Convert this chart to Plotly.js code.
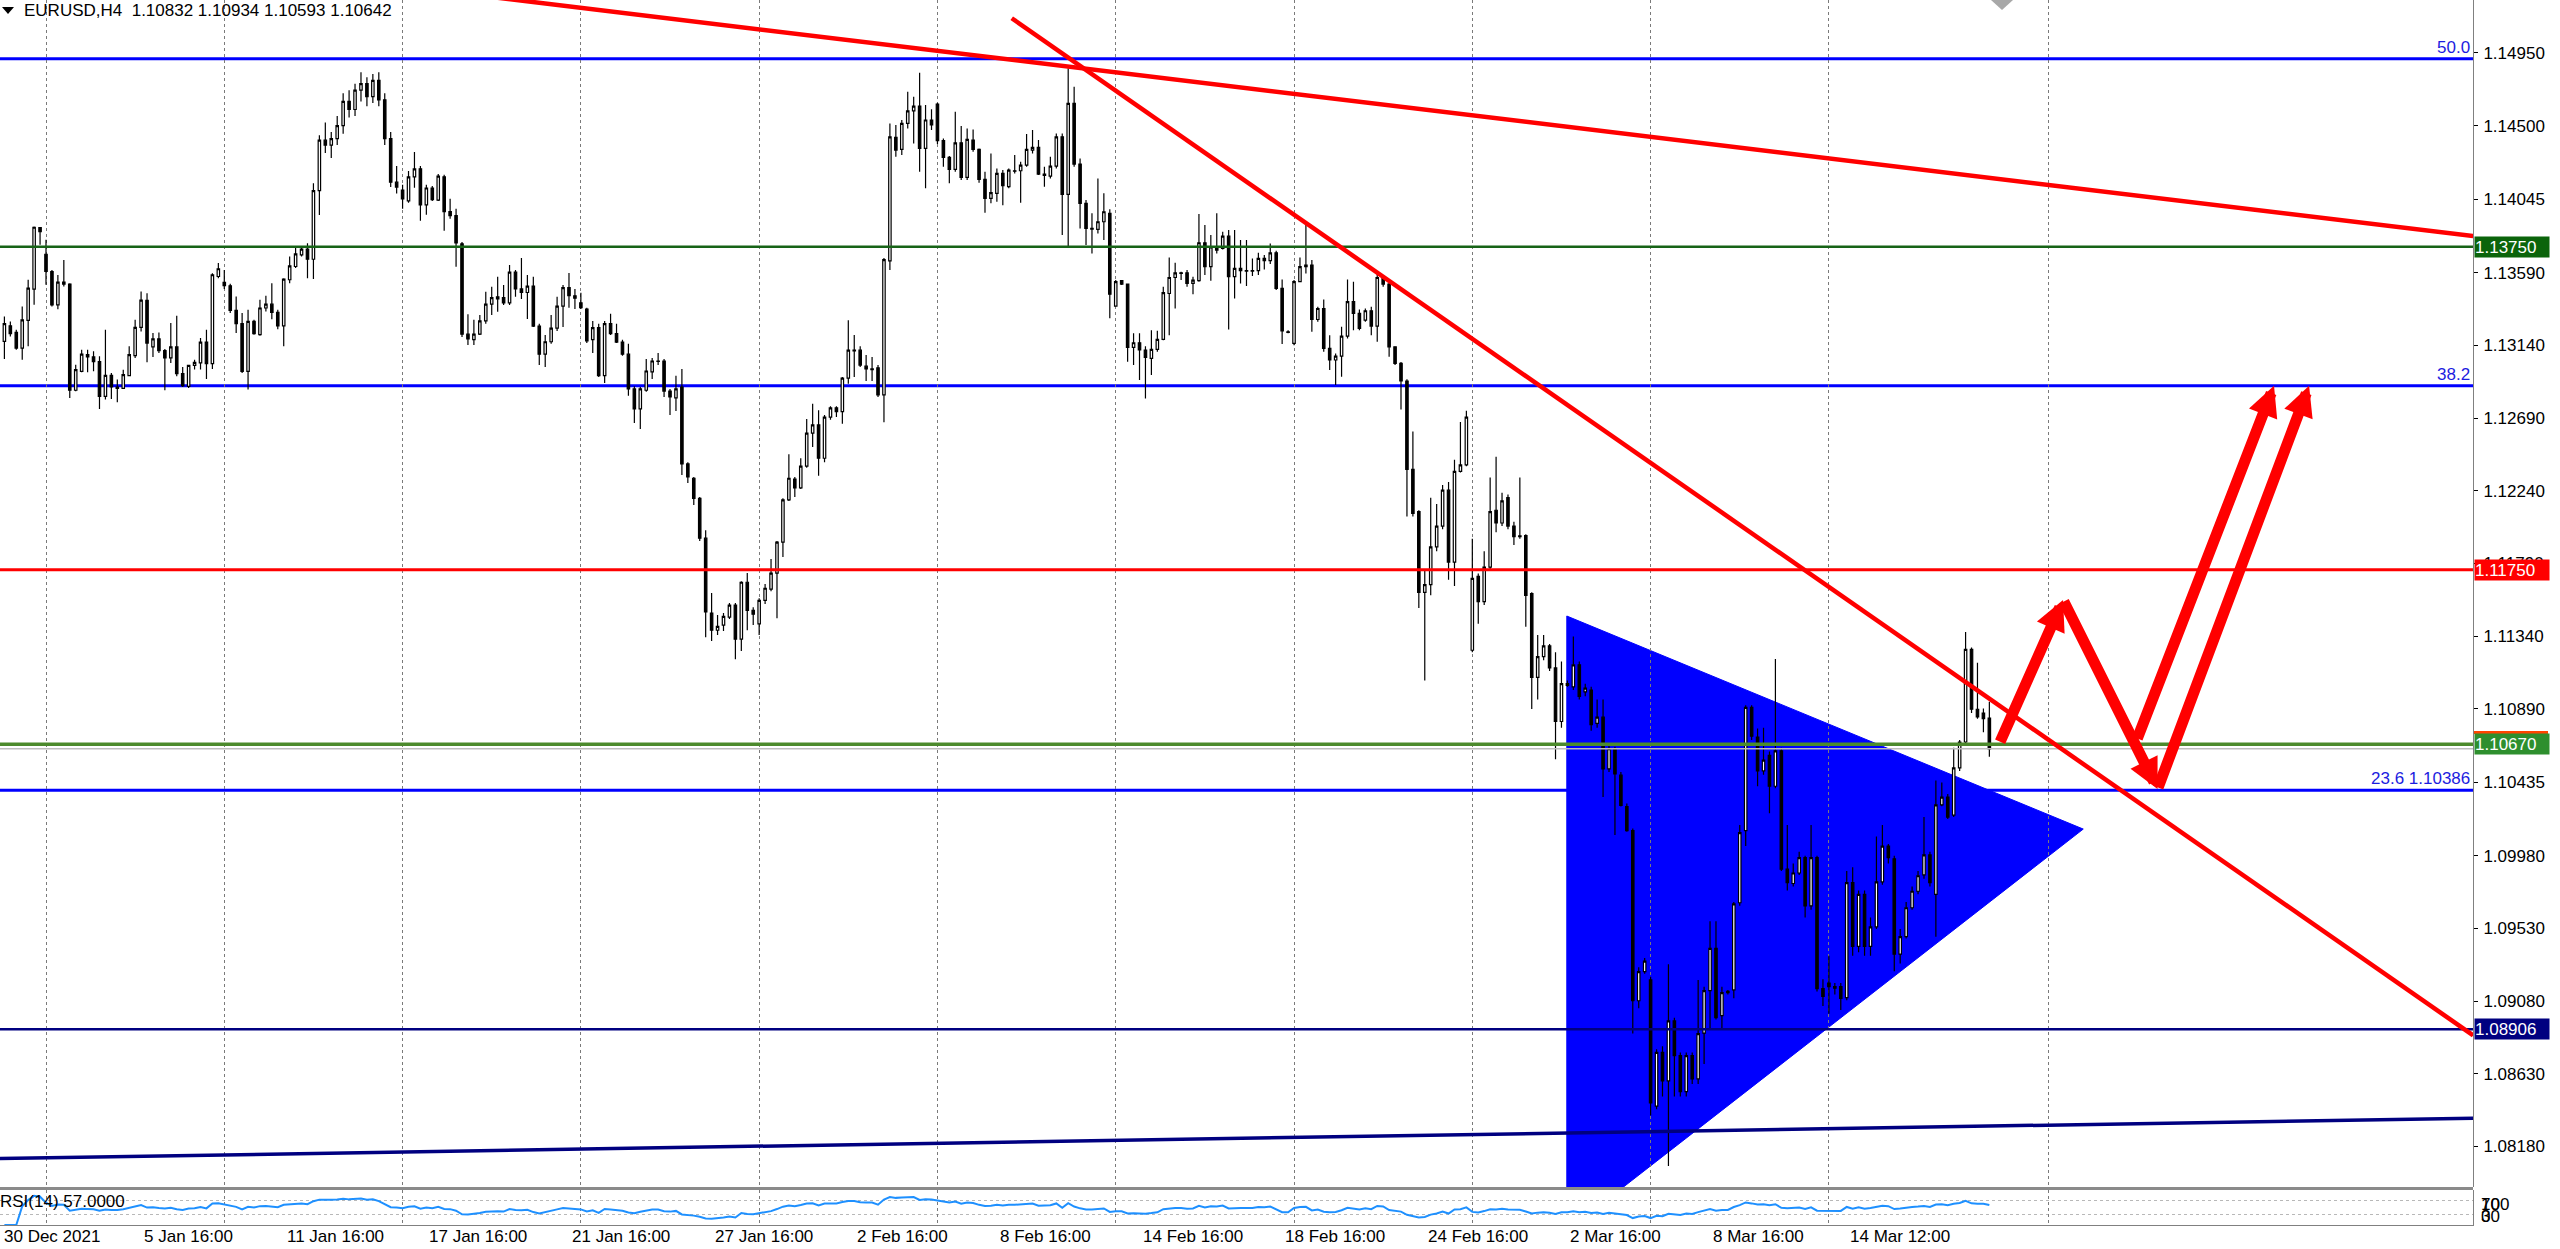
<!DOCTYPE html>
<html><head><meta charset="utf-8">
<script src="https://cdn.plot.ly/plotly-3.0.1.min.js"></script>
<style>html,body{margin:0;padding:0;background:#fff;overflow:hidden}</style>
</head><body><div id="chart" style="width:2560px;height:1249px"></div>
<script>
// ---------------- DATA (EURUSD H4) ----------------
const titleText = "EURUSD,H4\u00a0 1.10832 1.10934 1.10593 1.10642";
const rsiLabel = "RSI(14) 57.0000";

const opens = [
1.13165,1.13261,1.13220,1.13123,1.13294,1.13488,1.13869,1.13704,1.13597,1.13391,
1.13531,1.13519,1.12862,1.12979,1.13082,1.13068,1.13039,1.12824,1.12954,1.12882,
1.12874,1.12952,1.13076,1.13251,1.13418,1.13130,1.13180,1.13107,1.13062,1.13130,
1.12965,1.12886,1.13016,1.13031,1.13160,1.13027,1.13566,1.13530,1.13509,1.13356,
1.13274,1.12979,1.13288,1.13206,1.13371,1.13395,1.13344,1.13261,1.13546,1.13628,
1.13700,1.13735,1.13673,1.14098,1.14410,1.14380,1.14420,1.14500,1.14650,1.14600,
1.14720,1.14760,1.14680,1.14780,1.14660,1.14420,1.14150,1.14101,1.14034,1.14183,
1.14233,1.14010,1.14114,1.14039,1.14183,1.13968,1.13943,1.13769,1.13209,1.13175,
1.13209,1.13291,1.13395,1.13440,1.13435,1.13403,1.13593,1.13489,1.13467,1.13507,
1.13259,1.13085,1.13162,1.13246,1.13383,1.13497,1.13447,1.13403,1.13365,1.13175,
1.13249,1.12952,1.13274,1.13212,1.13160,1.13085,1.12870,1.12746,1.12862,1.12976,
1.13043,1.13043,1.12857,1.12815,1.12882,1.12406,1.12317,1.12193,1.11946,1.11482,
1.11376,1.11408,1.11457,1.11532,1.11321,1.11673,1.11499,1.11415,1.11561,1.11631,
1.11730,1.11921,1.12183,1.12312,1.12258,1.12392,1.12597,1.12647,1.12441,1.12696,
1.12753,1.12729,1.12937,1.13110,1.13110,1.13011,1.12994,1.13001,1.12833,1.13663,
1.14427,1.14353,1.14514,1.14592,1.14621,1.14359,1.14535,1.14634,1.14407,1.14304,
1.14229,1.14394,1.14180,1.14411,1.14353,1.14167,1.14050,1.14081,1.14204,1.14122,
1.14221,1.14221,1.14256,1.14349,1.14365,1.14200,1.14188,1.14250,1.14431,1.14074,
1.14638,1.14262,1.14019,1.13864,1.13858,1.13905,1.13957,1.13383,1.13540,1.13519,
1.13127,1.13156,1.13111,1.13059,1.13115,1.13177,1.13461,1.13560,1.13589,1.13589,
1.13523,1.13540,1.13775,1.13627,1.13746,1.13740,1.13816,1.13565,1.13616,1.13602,
1.13600,1.13602,1.13678,1.13664,1.13713,1.13492,1.13224,1.13152,1.13534,1.13627,
1.13637,1.13300,1.13368,1.13121,1.13049,1.13073,1.13197,1.13410,1.13338,1.13296,
1.13354,1.13259,1.13554,1.13519,1.13131,1.13028,1.12919,1.12372,1.12111,1.11611,
1.11658,1.11892,1.12021,1.12243,1.11798,1.12360,1.12400,1.11252,1.11709,1.11553,
1.11767,1.12119,1.12040,1.12197,1.12021,1.11955,1.11962,1.11603,1.11084,1.11213,
1.11279,1.11143,1.10811,1.11045,1.11026,1.11162,1.10995,1.11006,1.10799,1.10838,
1.10518,1.10643,1.10479,1.10284,1.10136,1.09082,1.09262,1.09211,1.08430,1.08762,
1.08586,1.08957,1.08742,1.08520,1.08742,1.08598,1.08882,1.09145,1.09407,1.08990,
1.09133,1.09149,1.09689,1.10135,1.10899,1.10715,1.10505,1.10601,1.10410,1.10629,
1.09897,1.09808,1.09873,1.09968,1.09670,1.09968,1.09157,1.09192,1.09169,1.09169,
1.09102,1.09813,1.09419,1.09741,1.09419,1.09539,1.09818,1.10040,1.09961,1.09371,
1.09479,1.09658,1.09760,1.09861,1.09985,1.09741,1.10295,1.10343,1.10231,1.10524,
1.10684,1.11257,1.10887,1.10863,1.10832];

const highs = [
1.13319,1.13288,1.13237,1.13381,1.13546,1.13875,1.13871,1.13793,1.13607,1.13576,
1.13669,1.13525,1.13020,1.13113,1.13113,1.13103,1.13072,1.13237,1.12969,1.12928,
1.12989,1.13134,1.13298,1.13474,1.13463,1.13216,1.13220,1.13117,1.13278,1.13323,
1.13006,1.13020,1.13051,1.13185,1.13237,1.13587,1.13649,1.13607,1.13521,1.13443,
1.13340,1.13360,1.13298,1.13422,1.13447,1.13525,1.13360,1.13556,1.13690,1.13752,
1.13747,1.13772,1.14143,1.14440,1.14520,1.14460,1.14560,1.14700,1.14720,1.14760,
1.14830,1.14800,1.14820,1.14830,1.14700,1.14460,1.14250,1.14134,1.14220,1.14337,
1.14250,1.14134,1.14126,1.14200,1.14196,1.14047,1.13985,1.13779,1.13333,1.13298,
1.13328,1.13472,1.13502,1.13564,1.13514,1.13638,1.13606,1.13680,1.13576,1.13564,
1.13274,1.13204,1.13328,1.13440,1.13514,1.13588,1.13489,1.13465,1.13373,1.13291,
1.13274,1.13291,1.13336,1.13274,1.13175,1.13150,1.12887,1.12882,1.13056,1.13061,
1.13093,1.13056,1.12870,1.12952,1.12994,1.12416,1.12325,1.12201,1.11995,1.11606,
1.11470,1.11482,1.11544,1.11544,1.11680,1.11730,1.11519,1.11574,1.11663,1.11817,
1.11928,1.12193,1.12466,1.12325,1.12441,1.12684,1.12778,1.12738,1.12709,1.12763,
1.12763,1.12944,1.13296,1.13204,1.13135,1.13080,1.13068,1.13018,1.13680,1.14513,
1.14504,1.14535,1.14710,1.14679,1.14828,1.14628,1.14601,1.14642,1.14421,1.14312,
1.14586,1.14498,1.14483,1.14477,1.14359,1.14215,1.14328,1.14235,1.14225,1.14235,
1.14318,1.14277,1.14448,1.14473,1.14411,1.14246,1.14308,1.14452,1.14452,1.14855,
1.14741,1.14297,1.14039,1.13957,1.14173,1.14081,1.13982,1.13544,1.13544,1.13523,
1.13214,1.13214,1.13135,1.13234,1.13230,1.13503,1.13684,1.13651,1.13596,1.13606,
1.13565,1.13953,1.13885,1.13823,1.13957,1.13843,1.13854,1.13854,1.13792,1.13792,
1.13678,1.13713,1.13699,1.13771,1.13726,1.13548,1.13234,1.13544,1.13684,1.13885,
1.13668,1.13379,1.13424,1.13203,1.13090,1.13255,1.13548,1.13534,1.13362,1.13368,
1.13379,1.13581,1.13569,1.13527,1.13135,1.13036,1.12930,1.12606,1.12119,1.11748,
1.12197,1.12158,1.12275,1.12294,1.12431,1.12665,1.12735,1.11943,1.11728,1.11865,
1.12321,1.12450,1.12228,1.12216,1.12048,1.12321,1.11970,1.11611,1.11346,1.11346,
1.11291,1.11240,1.11182,1.11065,1.11338,1.11182,1.11045,1.11026,1.10948,1.10948,
1.10674,1.10655,1.10499,1.10304,1.10148,1.09289,1.09347,1.09230,1.08782,1.08801,
1.09308,1.08977,1.08762,1.08762,1.08762,1.09211,1.09169,1.09574,1.09574,1.09169,
1.09149,1.09694,1.10171,1.10911,1.10911,1.10768,1.10773,1.10625,1.11198,1.10648,
1.10171,1.09932,1.10004,1.09980,1.10171,1.09980,1.09216,1.09360,1.09192,1.09192,
1.09885,1.09909,1.09765,1.09765,1.09598,1.10099,1.10171,1.10052,1.09980,1.09527,
1.09694,1.09789,1.09885,1.10219,1.10004,1.10446,1.10434,1.10362,1.10648,1.10696,
1.11365,1.11269,1.11174,1.10892,1.10934];

const lows = [
1.13055,1.13195,1.13113,1.13051,1.13134,1.13391,1.13762,1.13515,1.13381,1.13364,
1.13504,1.12814,1.12856,1.12973,1.12973,1.12979,1.12746,1.12804,1.12808,1.12787,
1.12870,1.12948,1.13062,1.13226,1.13035,1.13068,1.13093,1.12862,1.13031,1.12948,
1.12882,1.12876,1.12990,1.12990,1.12932,1.12994,1.13556,1.13488,1.13340,1.13216,
1.12969,1.12866,1.13206,1.13200,1.13350,1.13302,1.13240,1.13134,1.13525,1.13618,
1.13690,1.13556,1.13550,1.13947,1.14330,1.14300,1.14380,1.14450,1.14550,1.14560,
1.14650,1.14620,1.14640,1.14620,1.14380,1.14120,1.14080,1.13985,1.14022,1.14116,
1.13911,1.13948,1.14034,1.14034,1.13849,1.13923,1.13626,1.13192,1.13142,1.13142,
1.13204,1.13274,1.13328,1.13348,1.13390,1.13390,1.13440,1.13427,1.13303,1.13254,
1.13018,1.13006,1.13150,1.13229,1.13254,1.13373,1.13365,1.13365,1.13155,1.13093,
1.12944,1.12907,1.13204,1.13155,1.13075,1.12828,1.12659,1.12622,1.12852,1.12932,
1.13018,1.12820,1.12709,1.12734,1.12337,1.12287,1.12151,1.11928,1.11333,1.11309,
1.11346,1.11371,1.11445,1.11197,1.11247,1.11376,1.11408,1.11346,1.11539,1.11618,
1.11450,1.11829,1.12176,1.12201,1.12250,1.12382,1.12510,1.12332,1.12416,1.12679,
1.12696,1.12654,1.12902,1.12944,1.13006,1.12919,1.12919,1.12820,1.12664,1.13606,
1.14308,1.14318,1.14483,1.14390,1.14215,1.14112,1.14473,1.14386,1.14246,1.14143,
1.14215,1.14163,1.14163,1.14339,1.14147,1.13961,1.14019,1.14029,1.14008,1.14112,
1.14204,1.14023,1.14246,1.14328,1.14194,1.14122,1.14173,1.14235,1.13823,1.13750,
1.14246,1.13864,1.13761,1.13709,1.13833,1.13792,1.13307,1.13379,1.13513,1.13038,
1.13018,1.12925,1.12811,1.12956,1.13100,1.13172,1.13203,1.13368,1.13544,1.13503,
1.13457,1.13534,1.13575,1.13540,1.13709,1.13734,1.13238,1.13430,1.13523,1.13507,
1.13569,1.13575,1.13610,1.13643,1.13482,1.13148,1.13214,1.13141,1.13530,1.13585,
1.13224,1.13286,1.13100,1.12987,1.12894,1.12945,1.13183,1.13234,1.13234,1.13286,
1.13203,1.13162,1.13503,1.13069,1.13018,1.12743,1.12080,1.12080,1.11514,1.11065,
1.11592,1.11865,1.12001,1.11689,1.11650,1.12353,1.12392,1.11240,1.11416,1.11533,
1.11748,1.11982,1.12021,1.12001,1.11904,1.11943,1.11397,1.10889,1.10948,1.11190,
1.11123,1.10577,1.10772,1.11026,1.11006,1.10948,1.10967,1.10753,1.10772,1.10343,
1.10499,1.10109,1.10284,1.10128,1.08879,1.09035,1.09250,1.08372,1.08411,1.08489,
1.08059,1.08489,1.08489,1.08489,1.08567,1.08567,1.08691,1.08906,1.08966,1.08906,
1.09121,1.09097,1.09670,1.10040,1.10696,1.10410,1.10481,1.10243,1.10398,1.09885,
1.09765,1.09789,1.09861,1.09598,1.09646,1.09140,1.09049,1.09001,1.09121,1.09025,
1.09085,1.09360,1.09383,1.09360,1.09360,1.09527,1.09801,1.09932,1.09264,1.09312,
1.09467,1.09646,1.09741,1.09837,1.09789,1.09479,1.10286,1.10207,1.10219,1.10505,
1.10672,1.10863,1.10828,1.10744,1.10593];

const closes = [
1.13274,1.13212,1.13123,1.13298,1.13494,1.13871,1.13844,1.13597,1.13391,1.13531,
1.13519,1.12862,1.12990,1.13086,1.13068,1.13039,1.12824,1.12954,1.12882,1.12874,
1.12959,1.13082,1.13251,1.13420,1.13154,1.13180,1.13107,1.13062,1.13130,1.12965,
1.12891,1.13016,1.13035,1.13160,1.13027,1.13577,1.13614,1.13509,1.13356,1.13274,
1.12979,1.13288,1.13212,1.13371,1.13395,1.13344,1.13261,1.13550,1.13632,1.13706,
1.13735,1.13673,1.14098,1.14410,1.14380,1.14420,1.14500,1.14650,1.14600,1.14720,
1.14760,1.14680,1.14780,1.14660,1.14420,1.14150,1.14120,1.14047,1.14183,1.14233,
1.14010,1.14114,1.14042,1.14188,1.13968,1.13943,1.13774,1.13209,1.13180,1.13209,
1.13291,1.13395,1.13435,1.13427,1.13403,1.13593,1.13489,1.13467,1.13507,1.13259,
1.13085,1.13162,1.13246,1.13383,1.13497,1.13447,1.13432,1.13373,1.13167,1.13249,
1.12952,1.13274,1.13212,1.13160,1.13085,1.12870,1.12746,1.12870,1.12981,1.13043,
1.13040,1.12857,1.12820,1.12870,1.12406,1.12325,1.12193,1.11946,1.11490,1.11376,
1.11400,1.11462,1.11532,1.11321,1.11673,1.11499,1.11475,1.11561,1.11636,1.11730,
1.11921,1.12183,1.12317,1.12258,1.12392,1.12597,1.12647,1.12441,1.12696,1.12753,
1.12729,1.12937,1.13110,1.13105,1.13018,1.12994,1.12990,1.12833,1.13670,1.14431,
1.14349,1.14514,1.14592,1.14621,1.14359,1.14535,1.14504,1.14407,1.14304,1.14229,
1.14394,1.14180,1.14415,1.14353,1.14167,1.14050,1.14085,1.14204,1.14128,1.14225,
1.14218,1.14256,1.14353,1.14365,1.14200,1.14192,1.14250,1.14431,1.14074,1.14638,
1.14262,1.14019,1.13864,1.13860,1.13905,1.13967,1.13457,1.13534,1.13519,1.13127,
1.13156,1.13111,1.13065,1.13115,1.13177,1.13466,1.13560,1.13589,1.13585,1.13523,
1.13544,1.13775,1.13627,1.13750,1.13730,1.13816,1.13565,1.13616,1.13602,1.13600,
1.13602,1.13678,1.13664,1.13713,1.13492,1.13230,1.13220,1.13534,1.13627,1.13637,
1.13300,1.13368,1.13121,1.13049,1.13073,1.13197,1.13410,1.13338,1.13245,1.13354,
1.13259,1.13560,1.13519,1.13131,1.13028,1.12919,1.12372,1.12099,1.11611,1.11658,
1.11892,1.12021,1.12243,1.11798,1.12360,1.12400,1.12696,1.11697,1.11553,1.11767,
1.12111,1.12040,1.12177,1.12021,1.11955,1.11960,1.11592,1.11084,1.11213,1.11279,
1.11143,1.10811,1.11045,1.11034,1.11162,1.10967,1.11018,1.10792,1.10838,1.10518,
1.10643,1.10487,1.10292,1.10136,1.09082,1.09262,1.09328,1.08450,1.08762,1.08586,
1.08957,1.08742,1.08520,1.08742,1.08598,1.08879,1.09145,1.09407,1.08978,1.09133,
1.09140,1.09682,1.10123,1.10899,1.10720,1.10505,1.10572,1.10410,1.10629,1.09897,
1.09813,1.09873,1.09968,1.09670,1.09968,1.09157,1.09109,1.09169,1.09160,1.09097,
1.09813,1.09419,1.09741,1.09419,1.09539,1.09818,1.10040,1.09968,1.09371,1.09479,
1.09658,1.09760,1.09856,1.09985,1.09813,1.10295,1.10343,1.10219,1.10524,1.10684,
1.11257,1.10887,1.10839,1.10828,1.10642];

// price scale labels (right axis)
const priceTicks = [1.14950,1.14500,1.14045,1.13590,1.13140,1.12690,1.12240,1.11790,
                    1.11340,1.10890,1.10435,1.09980,1.09530,1.09080,1.08630,1.08180];
// time scale labels and the bar index each one starts at
const timeLabels = ["30 Dec 2021","5 Jan 16:00","11 Jan 16:00","17 Jan 16:00","21 Jan 16:00",
  "27 Jan 16:00","2 Feb 16:00","8 Feb 16:00","14 Feb 16:00","18 Feb 16:00","24 Feb 16:00",
  "2 Mar 16:00","8 Mar 16:00","14 Mar 12:00"];
const timeLabelBars = [-0.6,23,47,71,95,119,143,167,191,215,239,263,287,310];
const gridBars = [7,37,67,97,127,157,187,217,247,277,307,344];

// horizontal levels with price tags
const levelPrices = [1.13750, 1.11750, 1.10670, 1.08906];
const levelColors = ['#176317', '#FF0000', '#4C8A2C', '#000080'];
const tagColors   = ['#0B640B', '#FF0000', '#2E8F2E', '#000080'];
const levelWidths = [2.5, 3, 3.5, 2.5];
const bidPrice = 1.10642;

// Fibonacci levels
const fibPrices = [1.14914, 1.12890, 1.10386];
const fibLabels = ['50.0', '38.2', '23.6 1.10386'];

// drawn objects (bar index, price)
const trendShallow = [[60, 1.15394], [415.4, 1.13816]];
const trendSteep   = [[169.5, 1.15165], [415.4, 1.08868]];
const supportLine  = [[-0.74, 1.08105], [415.4, 1.08355]];
const triangle     = [[262.9, 1.11464], [349.8, 1.10145], [262.9, 1.07656]];
const arrowTails   = [[335.7, 1.10676], [346.4, 1.11563], [358.8, 1.10697], [362.3, 1.10393]];
const arrowHeads   = [[346.4, 1.11563], [362.3, 1.10393], [381.9, 1.12890], [387.8, 1.12890]];
const rsiLevels = [70, 30];

// ---------------- LAYOUT GEOMETRY ----------------
const W = 2560, H = 1249, MR = 87, MB = 24;
const PW = W - MR, PH = H - MB;          // plot area 2473 x 1225
const px = v => v / PW;                   // pixel x -> paper
const py = v => (PH - v) / PH;            // pixel y -> paper
const FONT = 'Liberation Sans, Arial, sans-serif';
const xRange = [-0.74, 415.38];
const yRange = [1.07929, 1.15278];

const bars = opens.map((_, i) => i);

function computeRSI(c, n) {
  const out = [];
  let ag = 0, al = 0;
  for (let i = 1; i < c.length; i++) {
    const d = c[i] - c[i - 1];
    const g = d > 0 ? d : 0, l = d < 0 ? -d : 0;
    const k = Math.min(i, n);
    ag = (ag * (k - 1) + g) / k;
    al = (al * (k - 1) + l) / k;
    out.push(al === 0 ? 100 : 100 - 100 / (1 + ag / al));
  }
  out.unshift(out[0]);
  return out;
}
const rsi = computeRSI(closes, 14);

const traces = [
  {
    type: 'candlestick', x: bars, open: opens, high: highs, low: lows, close: closes,
    xaxis: 'x', yaxis: 'y', whiskerwidth: 0, hoverinfo: 'skip',
    increasing: {line: {color: '#000000', width: 1.2}, fillcolor: '#FFFFFF'},
    decreasing: {line: {color: '#000000', width: 1.2}, fillcolor: '#000000'}
  },
  {
    type: 'scatter', mode: 'lines', x: bars, y: rsi, xaxis: 'x2', yaxis: 'y2',
    line: {color: '#1E90FF', width: 2}, hoverinfo: 'skip'
  }
];

const shapes = [];
// Fibonacci lines (behind the triangle)
fibPrices.forEach(p => shapes.push({type: 'line', xref: 'paper', yref: 'y', x0: 0, x1: 1, y0: p, y1: p,
  line: {color: '#0000FF', width: 3}, layer: 'below'}));
// filled triangle
shapes.push({type: 'path', xref: 'x', yref: 'y', layer: 'below',
  path: 'M' + triangle.map(v => v[0] + ',' + v[1]).join(' L') + ' Z',
  fillcolor: '#0000FF', line: {color: '#0000FF', width: 1}});
// RSI level lines
rsiLevels.forEach(v => shapes.push({type: 'line', xref: 'paper', yref: 'y2', x0: 0, x1: 1, y0: v, y1: v,
  line: {color: '#B8B8B8', width: 1, dash: 'dot'}, layer: 'below'}));
// bid line
shapes.push({type: 'line', xref: 'paper', yref: 'y', x0: 0, x1: 1, y0: bidPrice, y1: bidPrice,
  line: {color: '#BDBDBD', width: 1.5}});
// horizontal levels
levelPrices.forEach((p, i) => shapes.push({type: 'line', xref: 'paper', yref: 'y', x0: 0, x1: 1, y0: p, y1: p,
  line: {color: levelColors[i], width: levelWidths[i]}}));
// support line
shapes.push({type: 'line', xref: 'x', yref: 'y', x0: supportLine[0][0], y0: supportLine[0][1],
  x1: supportLine[1][0], y1: supportLine[1][1], line: {color: '#000080', width: 3.5}});
// red trend lines
[trendShallow, trendSteep].forEach(t => shapes.push({type: 'line', xref: 'x', yref: 'y',
  x0: t[0][0], y0: t[0][1], x1: t[1][0], y1: t[1][1], line: {color: '#FF0000', width: 4.5}}));
// window separator between price and RSI panes
shapes.push({type: 'rect', xref: 'paper', yref: 'paper', x0: 0, x1: 1, y0: py(1190), y1: py(1187),
  fillcolor: '#8A8A8A', line: {width: 0}});
// title arrow marker
shapes.push({type: 'path', xref: 'paper', yref: 'paper',
  path: `M${px(2)},${py(7)} L${px(14)},${py(7)} L${px(8)},${py(14)} Z`, fillcolor: '#000', line: {width: 0}});
// chart-shift marker at top
shapes.push({type: 'path', xref: 'paper', yref: 'paper',
  path: `M${px(1991)},${py(0)} L${px(2013)},${py(0)} L${px(2002)},${py(10)} Z`, fillcolor: '#A8A8A8', line: {width: 0}});
// ask marker above the 1.10670 tag
shapes.push({type: 'rect', xref: 'paper', yref: 'paper', x0: px(2474), x1: px(2548), y0: py(734), y1: py(731),
  fillcolor: '#FF4500', line: {width: 0}});

const annotations = [];
annotations.push({xref: 'paper', yref: 'paper', x: px(22), y: py(11), xanchor: 'left', yanchor: 'middle',
  text: titleText, showarrow: false, font: {family: FONT, size: 17, color: '#000'}});
annotations.push({xref: 'paper', yref: 'paper', x: px(-2), y: py(1201), xanchor: 'left', yanchor: 'middle',
  text: rsiLabel, showarrow: false, font: {family: FONT, size: 17, color: '#000'}});
// RSI scale labels (MT4 draws them on top of each other)
[['100', 1204], ['70', 1204], ['30', 1216], ['0', 1216]].forEach(r => annotations.push({
  xref: 'paper', yref: 'paper', x: px(2479), y: py(r[1]), xanchor: 'left', yanchor: 'middle',
  text: r[0], showarrow: false, font: {family: FONT, size: 17, color: '#000'}}));
// time labels
timeLabels.forEach((t, i) => annotations.push({xref: 'x', yref: 'paper', x: timeLabelBars[i], y: 0,
  xanchor: 'left', yanchor: 'top', xshift: 1, text: t, showarrow: false,
  font: {family: FONT, size: 17, color: '#000'}}));
// fib labels
fibPrices.forEach((p, i) => annotations.push({xref: 'paper', yref: 'y', x: px(2471), y: p,
  xanchor: 'right', yanchor: 'bottom', yshift: 1, text: fibLabels[i], showarrow: false, borderpad: 0,
  font: {family: FONT, size: 17, color: '#1C1CE0'}}));
// price tags
levelPrices.forEach((p, i) => annotations.push({xref: 'paper', yref: 'y', x: px(2474), y: p,
  xanchor: 'left', yanchor: 'middle', text: p.toFixed(5), showarrow: false, bgcolor: tagColors[i],
  width: 74, height: 20, borderpad: 0, align: 'left',
  font: {family: FONT, size: 17, color: '#FFFFFF'}}));
// red arrows
arrowTails.forEach((t, i) => annotations.push({xref: 'x', yref: 'y', axref: 'x', ayref: 'y',
  x: arrowHeads[i][0], y: arrowHeads[i][1], ax: t[0], ay: t[1], text: '', showarrow: true,
  arrowcolor: '#FF0000', arrowwidth: 11, arrowhead: 2, arrowsize: 0.55, standoff: 0, startstandoff: 0}));

const gridAxis = {
  tickmode: 'array', tickvals: gridBars, showticklabels: false, ticks: '',
  showgrid: true, gridcolor: '#7A7A7A', griddash: 'dot', gridwidth: 1, zeroline: false
};

const layout = {
  width: W, height: H, margin: {l: 0, r: MR, t: 0, b: MB, pad: 0},
  paper_bgcolor: '#FFFFFF', plot_bgcolor: '#FFFFFF', showlegend: false,
  font: {family: FONT, size: 17, color: '#000'},
  boxgap: 0.42,
  xaxis: Object.assign({domain: [0, 1], range: xRange, anchor: 'y', showline: false,
    rangeslider: {visible: false}, fixedrange: true}, gridAxis),
  xaxis2: Object.assign({domain: [0, 1], range: xRange, anchor: 'y2', matches: 'x',
    showline: true, linecolor: '#808080', linewidth: 1, fixedrange: true}, gridAxis),
  yaxis: {domain: [py(1187), 1], range: yRange, side: 'right', anchor: 'x',
    tickmode: 'array', tickvals: priceTicks, ticktext: priceTicks.map(v => v.toFixed(5)),
    ticks: 'outside', ticklen: 4, tickcolor: '#000', tickwidth: 1, ticklabelstandoff: 2,
    tickfont: {family: FONT, size: 17, color: '#000'}, showgrid: false, zeroline: false,
    showline: true, linecolor: '#808080', linewidth: 1, fixedrange: true},
  yaxis2: {domain: [0, py(1190)], range: [0, 100], side: 'right', anchor: 'x2',
    showticklabels: false, ticks: '', showgrid: false, zeroline: false,
    showline: true, linecolor: '#808080', linewidth: 1, fixedrange: true},
  shapes: shapes,
  annotations: annotations
};

Plotly.newPlot('chart', traces, layout, {staticPlot: true, displayModeBar: false});
</script>
</body></html>
